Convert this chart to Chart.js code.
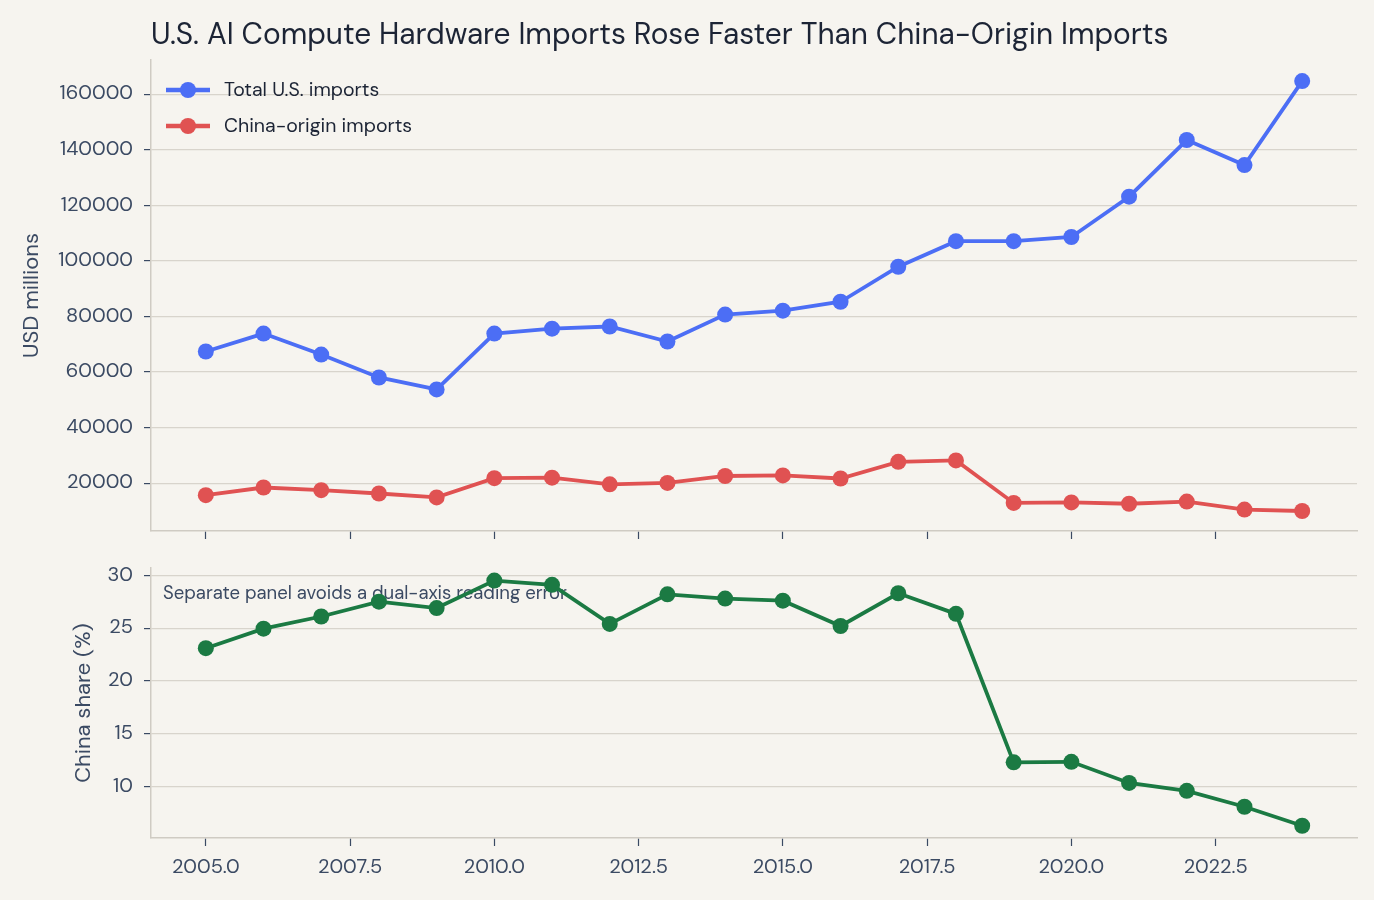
<!DOCTYPE html>
<html>
<head>
<meta charset="utf-8">
<script src="https://cdn.jsdelivr.net/npm/chart.js@4.4.1/dist/chart.umd.min.js"></script>
<style>
    body { margin: 0; background: #f6f4ef; }
    #wrap { position: relative; width: 1374px; height: 900px; background: #f6f4ef; }
    .panel { position: absolute; left: 0; width: 1374px; }
    #top { top: 0; height: 560px; }
    #bottom { top: 545px; height: 355px; }
</style>
</head>
<body>
<div id="wrap">
    <div class="panel" id="top"><canvas id="chartTop"></canvas></div>
    <div class="panel" id="bottom"><canvas id="chartBottom"></canvas></div>
</div>
<script>
const years = [2005, 2006, 2007, 2008, 2009, 2010, 2011, 2012, 2013, 2014, 2015, 2016, 2017, 2018, 2019, 2020, 2021, 2022, 2023, 2024];
const totalImports = [67400, 73850, 66300, 58050, 53750, 73850, 75600, 76400, 71000, 80700, 82100, 85300, 97900, 107100, 107100, 108600, 123100, 143500, 134500, 164700];
const chinaImports = [15700, 18450, 17500, 16300, 14900, 21800, 22000, 19600, 20100, 22600, 22800, 21700, 27700, 28200, 12900, 13100, 12600, 13400, 10500, 10000];
const chinaShare = [23.1, 24.95, 26.1, 27.5, 26.9, 29.5, 29.1, 25.4, 28.2, 27.8, 27.6, 25.2, 28.3, 26.35, 12.3, 12.35, 10.35, 9.6, 8.1, 6.3];
const xTicks = [2005, 2007.5, 2010, 2012.5, 2015, 2017.5, 2020, 2022.5];
const usdTicks = [20000, 40000, 60000, 80000, 100000, 120000, 140000, 160000];
const shareTicks = [10, 15, 20, 25, 30];

const titleText = "U.S. AI Compute Hardware Imports Rose Faster Than China-Origin Imports";
const noteText = "Separate panel avoids a dual-axis reading error";

const FONT = "'DM Sans', Inter, 'Open Sans', sans-serif";
const inkColor = "#3b4a63";
const gridColor = "#d8d4cc";
const spineColor = "#cfcbc3";

Chart.defaults.font.family = FONT;
Chart.defaults.color = inkColor;

const pts = arr => arr.map((v, i) => ({x: years[i], y: v}));

const xScale = (showLabels, height) => ({
    type: 'linear',
    min: 2004.05,
    max: 2024.95,
    afterBuildTicks: s => { s.ticks = xTicks.map(v => ({value: v})); },
    afterFit: s => { s.height = height; },
    grid: { drawOnChartArea: false, drawTicks: true, tickLength: 8, tickColor: inkColor, tickWidth: 1.2 },
    border: { display: true, color: spineColor, width: 1.5 },
    ticks: { display: showLabels, padding: 10, font: {size: 20}, color: inkColor, maxRotation: 0,
             callback: v => Number(v).toFixed(1) }
});

const yScale = (min, max, ticks, title, width) => ({
    min: min,
    max: max,
    afterBuildTicks: s => { s.ticks = ticks.map(v => ({value: v})); },
    afterFit: s => { s.width = width; },
    grid: { color: gridColor, lineWidth: 1.2, tickLength: 7, tickColor: inkColor },
    border: { display: true, color: spineColor, width: 1.5 },
    ticks: { padding: 11, font: {size: 20}, color: inkColor, callback: v => String(v) },
    title: { display: true, text: title, font: {size: 22}, color: inkColor }
});

// title + legend drawn inside the top panel
const topDecor = {
    id: 'topDecor',
    afterDatasetsDraw(chart) {
        const ctx = chart.ctx, a = chart.chartArea;
        ctx.save();
        ctx.fillStyle = "#1c2435";
        ctx.font = "29.8px " + FONT;
        ctx.textBaseline = 'middle';
        ctx.fillText(titleText, a.left, 36);
        chart.data.datasets.forEach((ds, i) => {
            const y = a.top + 30 + i * 36;
            ctx.strokeStyle = ds.borderColor;
            ctx.lineWidth = 4.5;
            ctx.beginPath();
            ctx.moveTo(a.left + 15, y);
            ctx.lineTo(a.left + 59, y);
            ctx.stroke();
            ctx.fillStyle = ds.borderColor;
            ctx.beginPath();
            ctx.arc(a.left + 37, y, 8, 0, Math.PI * 2);
            ctx.fill();
            ctx.fillStyle = "#1c2435";
            ctx.font = "19.5px " + FONT;
            ctx.fillText(ds.label, a.left + 73, y + 1);
        });
        ctx.restore();
    }
};

const noteDecor = {
    id: 'noteDecor',
    beforeDatasetsDraw(chart) {
        const ctx = chart.ctx, a = chart.chartArea;
        ctx.save();
        ctx.fillStyle = inkColor;
        ctx.font = "18.5px " + FONT;
        ctx.textBaseline = 'middle';
        ctx.fillText(noteText, a.left + 12, a.top + 26);
        ctx.restore();
    }
};

const lineStyle = color => ({
    borderColor: color,
    backgroundColor: color,
    borderWidth: 3.8,
    pointRadius: 8,
    pointBorderWidth: 0,
    pointHoverRadius: 8,
    tension: 0,
    clip: false
});

new Chart(document.getElementById("chartTop"), {
    type: 'line',
    data: {
        datasets: [
            Object.assign({label: 'Total U.S. imports', data: pts(totalImports)}, lineStyle('#4c6ef5')),
            Object.assign({label: 'China-origin imports', data: pts(chinaImports)}, lineStyle('#e05252'))
        ]
    },
    options: {
        responsive: true,
        maintainAspectRatio: false,
        animation: false,
        layout: { padding: {left: 15, right: 17, top: 60, bottom: 0} },
        plugins: { legend: {display: false}, tooltip: {enabled: false} },
        scales: {
            x: xScale(false, 29),
            y: yScale(2800, 172300, usdTicks, 'USD millions', 136)
        }
    },
    plugins: [topDecor]
});

new Chart(document.getElementById("chartBottom"), {
    type: 'line',
    data: {
        datasets: [
            Object.assign({label: 'China share (%)', data: pts(chinaShare)}, lineStyle('#1b7a43'))
        ]
    },
    options: {
        responsive: true,
        maintainAspectRatio: false,
        animation: false,
        layout: { padding: {left: 67, right: 17, top: 17, bottom: 0} },
        plugins: { legend: {display: false}, tooltip: {enabled: false} },
        scales: {
            x: xScale(true, 62),
            y: yScale(5.14, 30.69, shareTicks, 'China share (%)', 84)
        }
    },
    plugins: [noteDecor]
});
</script>
</body>
</html>
